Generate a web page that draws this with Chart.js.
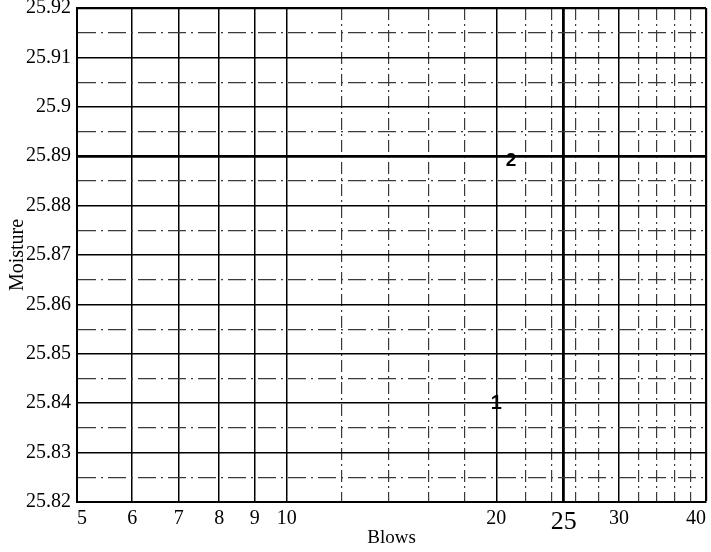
<!DOCTYPE html>
<html>
<head>
<meta charset="utf-8">
<script src="https://cdn.jsdelivr.net/npm/chart.js@4/dist/chart.umd.min.js"></script>
<style>
  html, body { margin: 0; padding: 0; background: #fff; }
  #wrap { width: 711px; height: 552px; position: relative; }
</style>
</head>
<body>
<div id="wrap"><canvas id="c" width="711" height="552"></canvas></div>
<script>
// Blow-count axis (log scale): every grid position, and the ones that carry a label
const xTickValues = [5, 6, 7, 8, 9, 10, 12, 14, 16, 18, 20, 22, 24, 25, 26, 28, 30, 32, 34, 36, 38, 40];
const xTickLabels = [5, 6, 7, 8, 9, 10, 20, 25, 30, 40];
// Moisture axis: grid every 0.005, labels every 0.01
const yTickValues = [25.82, 25.825, 25.83, 25.835, 25.84, 25.845, 25.85, 25.855, 25.86, 25.865,
                     25.87, 25.875, 25.88, 25.885, 25.89, 25.895, 25.9, 25.905, 25.91, 25.915, 25.92];
const yTickLabels = ['25.82', '25.83', '25.84', '25.85', '25.86', '25.87', '25.88', '25.89', '25.9', '25.91', '25.92'];

// Numbered test points
const pointBlows = [20, 21];
const pointMoisture = [25.84, 25.889];
const pointNames = ['1', '2'];

const SERIF = "'Liberation Serif', 'Times New Roman', serif";
const SANS = "'Liberation Sans', Arial, sans-serif";

const near = (a, b) => Math.abs(a - b) < 1e-6;
const yLabelFor = v => {
  const s = String(+v.toFixed(3));
  return yTickLabels.includes(s) ? s : '';
};
const isYMajor = v => yLabelFor(v) !== '';
const isXMajor = v => xTickLabels.some(t => near(t, v));

// Draws each point's number at its data position
const numberedPoints = {
  id: 'numberedPoints',
  afterDatasetsDraw(chart) {
    const meta = chart.getDatasetMeta(0);
    const ctx = chart.ctx;
    ctx.save();
    ctx.fillStyle = '#000';
    ctx.textAlign = 'center';
    ctx.textBaseline = 'middle';
    meta.data.forEach((el, i) => {
      ctx.font = 'bold ' + (i === 0 ? 20 : 19) + 'px ' + SANS;
      ctx.fillText(pointNames[i], el.x, el.y);
    });
    ctx.restore();
  }
};

new Chart(document.getElementById('c'), {
  type: 'scatter',
  data: {
    datasets: [{
      data: pointBlows.map((x, i) => ({ x: x, y: pointMoisture[i] })),
      pointRadius: 0,
      pointHoverRadius: 0,
      showLine: false
    }]
  },
  options: {
    responsive: false,
    animation: false,
    events: [],
    layout: { padding: { top: 8, right: 4, left: 0, bottom: 0 } },
    plugins: { legend: { display: false }, tooltip: { enabled: false } },
    scales: {
      x: {
        type: 'logarithmic',
        min: 5,
        max: 40,
        afterBuildTicks(scale) { scale.ticks = xTickValues.map(v => ({ value: v, major: false })); },
        afterFit(scale) { scale.height = 50; },
        border: {
          display: true, color: '#000', width: 2,
          dash: c => (c.tick && !isXMajor(c.tick.value)) ? [12, 4, 2, 4] : []
        },
        grid: {
          drawTicks: false,
          color: c => (c.tick && !isXMajor(c.tick.value)) ? '#3a3a3a' : '#000',
          lineWidth: c => {
            if (!c.tick) return 1.5;
            const v = c.tick.value;
            if (near(v, 25)) return 2.8;
            if (near(v, 40)) return 2.2;
            return isXMajor(v) ? 1.5 : 1.2;
          }
        },
        ticks: {
          autoSkip: false,
          maxRotation: 0,
          align: 'inner',
          padding: 5,
          color: '#000',
          font: c => ({ family: SERIF, size: (c.tick && near(c.tick.value, 25)) ? 26 : 20 }),
          callback: v => isXMajor(v) ? String(v) : ''
        },
        title: {
          display: true, text: 'Blows', color: '#000',
          font: { family: SERIF, size: 19 },
          padding: { top: 0, bottom: 3 }
        }
      },
      y: {
        min: 25.82,
        max: 25.92,
        afterBuildTicks(scale) { scale.ticks = yTickValues.map(v => ({ value: v })); },
        afterFit(scale) { scale.width = 77; scale.paddingTop = 0; scale.paddingBottom = 0; },
        border: {
          display: true, color: '#000', width: 2,
          dash: c => (c.tick && !isYMajor(c.tick.value)) ? [18, 5, 2, 5] : []
        },
        grid: {
          drawTicks: false,
          color: c => (c.tick && !isYMajor(c.tick.value)) ? '#3a3a3a' : '#000',
          lineWidth: c => {
            if (!c.tick) return 1.5;
            const v = c.tick.value;
            if (near(v, 25.89)) return 2.8;
            if (near(v, 25.92)) return 2.2;
            return isYMajor(v) ? 1.6 : 1.2;
          }
        },
        ticks: {
          autoSkip: false,
          padding: 6,
          color: '#000',
          font: { family: SERIF, size: 20 },
          callback: v => yLabelFor(v)
        },
        title: {
          display: true, text: 'Moisture', color: '#000',
          font: { family: SERIF, size: 20 },
          padding: { top: 6, bottom: 0 }
        }
      }
    }
  },
  plugins: [numberedPoints]
});
</script>
</body>
</html>
